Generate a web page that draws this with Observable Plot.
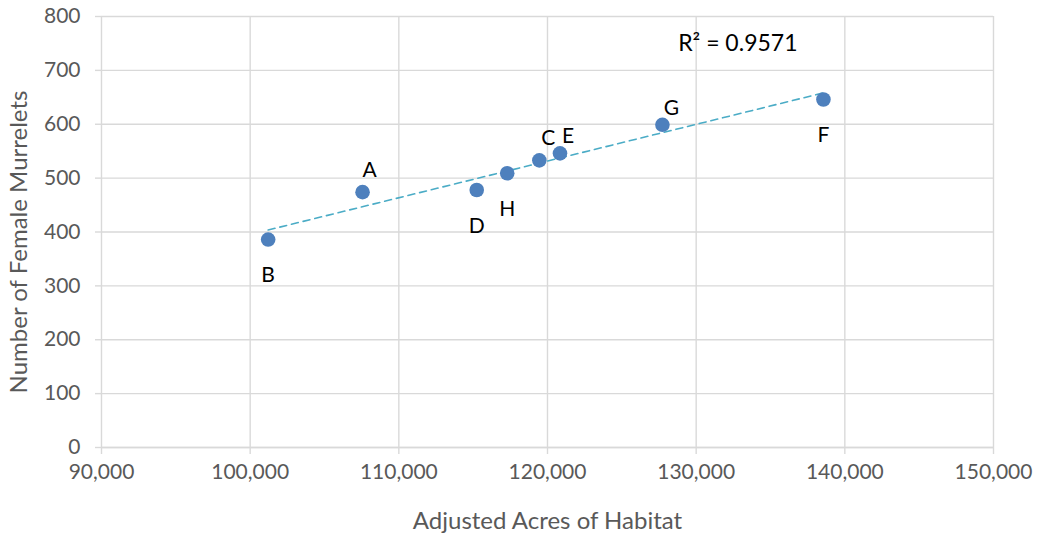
<!DOCTYPE html>
<html>
<head>
<meta charset="utf-8">
<script src="https://cdn.jsdelivr.net/npm/d3@7"></script>
<script src="https://cdn.jsdelivr.net/npm/@observablehq/plot@0.6"></script>
<style>
  html, body { margin: 0; padding: 0; background: #fff; }
  #chart svg { display: block; }
</style>
</head>
<body>
<div id="chart"></div>
<script>
// Murrelet survey sites: habitat area vs. female count
const sites = ["A", "B", "C", "D", "E", "F", "G", "H"];
const acres = [107560, 101210, 119450, 115240, 120840, 138560, 127730, 117290];
const females = [474, 386, 533, 478, 546, 646, 599, 509];
const rSquared = 0.9571;

const xTicks = [90000, 100000, 110000, 120000, 130000, 140000, 150000];
const yTicks = [0, 100, 200, 300, 400, 500, 600, 700, 800];
const xTitle = "Adjusted Acres of Habitat";
const yTitle = "Number of Female Murrelets";

const data = sites.map((s, i) => ({site: s, acres: acres[i], females: females[i]}));

// where each site's letter sits relative to its marker
const above = new Set(["A", "C", "E", "G"]);
const labelShift = {A: [7, -22], C: [9, -22], E: [8, -17], G: [9, -17]};

const font = "Lato, 'Open Sans', sans-serif";
const gridColor = "#d9d9d9";
const textColor = "#595959";

const chart = Plot.plot({
  width: 1037,
  height: 533,
  marginLeft: 101,
  marginRight: 44,
  marginTop: 16,
  marginBottom: 86,
  style: {fontFamily: font, fontSize: "21px", background: "#fff"},
  x: {domain: [90000, 150000]},
  y: {domain: [0, 800]},
  marks: [
    Plot.gridX(xTicks, {stroke: gridColor, strokeOpacity: 1, strokeWidth: 1.4}),
    Plot.gridY(yTicks, {stroke: gridColor, strokeOpacity: 1, strokeWidth: 1.4}),
    Plot.axisX({
      ticks: xTicks, tickFormat: d3.format(","), tickSize: 7, tickPadding: 10,
      stroke: gridColor, strokeWidth: 1.4, fill: textColor, fontSize: 21,
      label: null
    }),
    Plot.axisY({
      ticks: yTicks, tickSize: 6, tickPadding: 15,
      stroke: gridColor, strokeWidth: 1.4, fill: textColor, fontSize: 21,
      label: null
    }),
    // axis titles
    Plot.text([xTitle], {
      frameAnchor: "bottom", dy: 74, lineAnchor: "middle",
      fill: textColor, fontSize: 24
    }),
    Plot.text([yTitle], {
      frameAnchor: "left", dx: -82, dy: 10, rotate: -90,
      textAnchor: "middle", lineAnchor: "middle",
      fill: textColor, fontSize: 24
    }),
    Plot.ruleY([0], {stroke: gridColor, strokeWidth: 1.4}),
    Plot.linearRegressionY(data, {
      x: "acres", y: "females", ci: 0,
      stroke: "#4bacc6", strokeWidth: 1.6, strokeDasharray: "7,5"
    }),
    Plot.dot(data, {x: "acres", y: "females", r: 7.3, fill: "#4e80bd", stroke: "none"}),
    ...sites.map(s => {
      const d = data.filter(p => p.site === s);
      const [dx, dy] = above.has(s) ? labelShift[s] : [0, 36];
      return Plot.text(d, {
        x: "acres", y: "females", text: "site", dx, dy,
        fill: "#000", fontSize: 21, lineAnchor: "middle"
      });
    }),
    Plot.text([`R² = ${rSquared}`], {
      frameAnchor: "top-right", dx: -196, dy: 27, textAnchor: "end",
      lineAnchor: "middle", fill: "#000", fontSize: 23
    })
  ]
});

document.getElementById("chart").appendChild(chart);
</script>
</body>
</html>
